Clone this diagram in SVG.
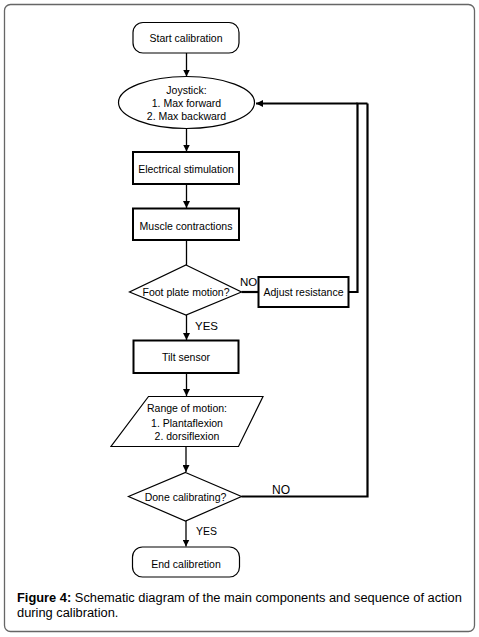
<svg xmlns="http://www.w3.org/2000/svg" width="479" height="637" viewBox="0 0 479 637">
<defs>
<style>
text{font-family:"Liberation Sans",Arial,sans-serif;fill:#000}
.n{font-size:10.5px;text-anchor:middle}
.lb{font-size:11.5px}
.thin{fill:#fff;stroke:#000;stroke-width:1.2}
.thick{fill:#fff;stroke:#000;stroke-width:2}
.ln{fill:none;stroke:#000;stroke-width:1.3}
.lt{fill:none;stroke:#000;stroke-width:2.2}
.cap{font-size:12.85px}
</style>
<marker id="ah" viewBox="0 0 10 10" refX="10" refY="5" markerWidth="7" markerHeight="7" markerUnits="userSpaceOnUse" orient="auto">
<path d="M0,0 L10,5 L0,10 z" fill="#000"/>
</marker>
</defs>
<rect width="479" height="637" fill="#fff"/>
<rect x="4.5" y="4.5" width="470" height="627" rx="6" fill="none" stroke="#666" stroke-width="1.3"/>

<g id="connectors">
<line class="ln" x1="186.5" y1="53" x2="186.5" y2="76.5" marker-end="url(#ah)"/>
<line class="ln" x1="186.5" y1="128.5" x2="186.5" y2="151.5" marker-end="url(#ah)"/>
<line class="ln" x1="186.5" y1="184" x2="186.5" y2="208" marker-end="url(#ah)"/>
<line class="ln" x1="186.5" y1="240" x2="186.5" y2="265"/>
<line class="lt" x1="241.5" y1="292" x2="258.5" y2="292"/>
<polyline class="lt" points="348.5,292 357.5,292 357.5,103.5 367.5,103.5"/>
<line class="lt" x1="357.5" y1="103.5" x2="256" y2="103.5" marker-end="url(#ah)"/>
<line class="ln" x1="186.5" y1="315" x2="186.5" y2="340" marker-end="url(#ah)"/>
<line class="ln" x1="186.5" y1="373" x2="186.5" y2="396" marker-end="url(#ah)"/>
<line class="ln" x1="186" y1="447" x2="186" y2="472" marker-end="url(#ah)"/>
<polyline class="lt" points="241.5,496.5 367.5,496.5 367.5,103.5"/>
<line class="ln" x1="186" y1="521" x2="186" y2="546.5" marker-end="url(#ah)"/>
<text class="lb" x="240" y="286">NO</text>
<text class="lb" x="195" y="330">YES</text>
<text class="lb" x="272" y="494" style="font-size:12px">NO</text>
<text class="lb" x="196" y="535" style="font-size:10.5px">YES</text>
</g>

<g id="start">
<rect class="thin" x="133" y="22.5" width="106" height="30.5" rx="10"/>
<text class="n" x="186" y="41.5">Start calibration</text>
</g>
<g id="joystick">
<ellipse class="thin" cx="186.5" cy="102.5" rx="68" ry="26"/>
<text class="n" x="186.5" y="93.5">Joystick:</text>
<text class="n" x="186.5" y="106.5">1. Max forward</text>
<text class="n" x="186.5" y="120">2. Max backward</text>
</g>
<g id="stim">
<rect class="thick" x="133" y="152" width="106" height="32"/>
<text class="n" x="186" y="172.5">Electrical stimulation</text>
</g>
<g id="muscle">
<rect class="thick" x="133" y="208.5" width="106" height="31.5"/>
<text class="n" x="186" y="229.5">Muscle contractions</text>
</g>
<g id="foot">
<polygon class="thin" points="186,265 241.5,292 186,315 129.5,292"/>
<text class="n" x="186" y="295.5">Foot plate motion?</text>
</g>
<g id="adjust">
<rect class="thick" x="258.5" y="277" width="90" height="30"/>
<text class="n" x="303.5" y="295.5">Adjust resistance</text>
</g>
<g id="tilt">
<rect class="thick" x="133.5" y="340.5" width="105" height="32.5"/>
<text class="n" x="186" y="361">Tilt sensor</text>
</g>
<g id="range">
<polygon class="thin" points="148.5,396.5 263,396.5 238.5,446.5 111,446.5"/>
<text class="n" x="187" y="411.5">Range of motion:</text>
<text class="n" x="187" y="427">1. Plantaflexion</text>
<text class="n" x="187" y="439.5">2. dorsiflexion</text>
</g>
<g id="done">
<polygon class="thin" points="185.5,472.5 241.5,496.5 185.5,521 128.5,496.5"/>
<text class="n" x="185.5" y="500.5">Done calibrating?</text>
</g>
<g id="end">
<rect class="thin" x="132.5" y="547" width="107" height="30" rx="10"/>
<text class="n" x="186" y="567.5">End calibretion</text>
</g>

<g id="caption">
<text class="cap" x="17" y="602"><tspan font-weight="bold">Figure 4:</tspan> Schematic diagram of the main components and sequence of action</text>
<text class="cap" x="17" y="617">during calibration.</text>
</g>
</svg>
